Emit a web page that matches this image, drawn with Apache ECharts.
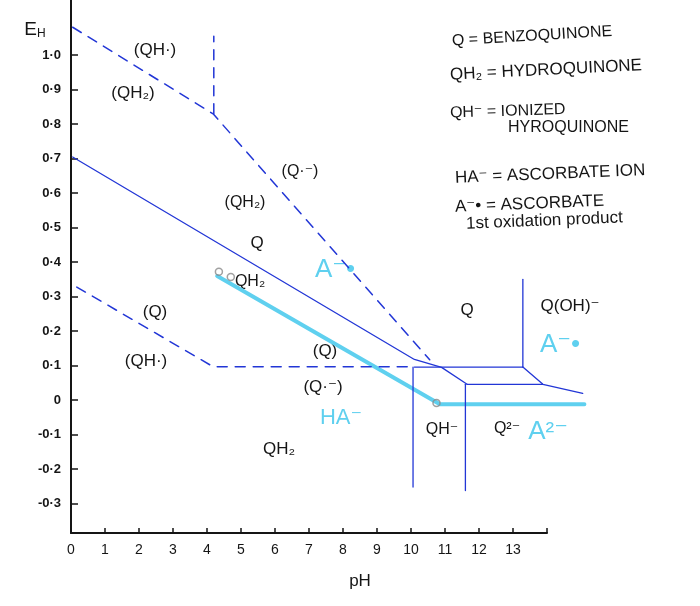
<!DOCTYPE html>
<html>
<head>
<meta charset="utf-8">
<script src="https://cdn.jsdelivr.net/npm/echarts@6/dist/echarts.min.js"></script>
<style>html,body{margin:0;padding:0;background:#fff}#c{width:700px;height:606px}</style>
</head>
<body>
<div id="c"></div>
<script>
// ---- data (pH, Eh in volts) ----
const xTicks = [0,1,2,3,4,5,6,7,8,9,10,11,12,13];
const xTickLabels = ['0','1','2','3','4','5','6','7','8','9','10','11','12','13'];
const ehTicks = [-0.3,-0.2,-0.1,0,0.1,0.2,0.3,0.4,0.5,0.6,0.7,0.8,0.9,1.0];
const ehTickLabels = ['-0·3','-0·2','-0·1','0','0·1','0·2','0·3','0·4','0·5','0·6','0·7','0·8','0·9','1·0'];

// solid boundaries (quinone system)
const qQh2Line   = [[0.05,0.705],[10.1,0.118],[10.9,0.095],[11.65,0.046]];
const qQhmLine   = [[10.1,0.096],[13.29,0.096]];
const qQ2mLine   = [[11.65,0.046],[13.88,0.046]];
const qohLine    = [[13.29,0.096],[13.88,0.046],[15.05,0.020]];
const pKaQOH     = [[13.29,0.096],[13.29,0.35]];
const pKa1Line   = [[10.06,0.096],[10.06,-0.252]];
const pKa2Line   = [[11.6,0.046],[11.6,-0.262]];
// dashed boundaries (semiquinone)
const semiUpper  = [[0.05,1.081],[4.18,0.830],[10.55,0.117]];
const semiVert   = [[4.2,0.830],[4.2,1.055]];
const semiLower  = [[0.17,0.328],[4.18,0.097],[10.1,0.097]];
// ascorbate (cyan)
const ascorbate  = [[4.3,0.360],[10.85,-0.012],[15.1,-0.012]];
const markCircles = [[4.35,0.372],[4.7,0.357],[10.75,-0.008]];

const BLUE = '#2236d6', CYAN = '#5fd0ef', INK = '#151515';
const chart = echarts.init(document.getElementById('c'), null, {renderer:'canvas'});

const Y_MIN = -0.385, Y_MAX = 1.16;
// plotting grid (extends past pH 14 at the same scale: 34 px / pH unit)
const PLOT_MAX = 15.5;

function ln(data, color, width, type, z) {
  return {type:'line', data, xAxisIndex:0, yAxisIndex:0, symbol:'none', clip:false, silent:true, animation:false,
    z: z||3, lineStyle:{color, width, type: type||'solid', cap:'round', join:'round'}};
}
function txt(text, x, y, size, color, align, rot) {
  return {type:'text', x, y, rotation: rot||0, silent:true,
    style:{text, fill: color||INK, font: (size||15)+'px "Liberation Sans", "DejaVu Sans", sans-serif',
      align: align||'center', verticalAlign:'middle'}};
}

const option = {
  backgroundColor:'#fff',
  animation:false,
  grid:[
    {left:71, right:700-71-PLOT_MAX*34, top:0, bottom:73},
    {left:71, right:153, top:0, bottom:73}
  ],
  xAxis:[
    {type:'value', gridIndex:0, min:0, max:PLOT_MAX, show:false},
    {type:'value', gridIndex:1, min:0, max:14,
    name:'pH', nameLocation:'middle', nameGap:40,
    nameTextStyle:{color:INK, fontSize:17, fontFamily:'Liberation Sans', padding:[0,0,0,102]},
    axisLine:{show:true, onZero:false, lineStyle:{color:INK, width:2}},
    axisTick:{show:true, inside:true, length:5, customValues:[0,1,2,3,4,5,6,7,8,9,10,11,12,13,14], lineStyle:{color:INK,width:1.5}},
    axisLabel:{customValues:xTicks, color:INK, fontSize:14, margin:10, fontFamily:'Liberation Sans',
      formatter:(v)=>{const i=xTicks.indexOf(Math.round(v)); return i>=0?xTickLabels[i]:'';}},
    splitLine:{show:false}}
  ],
  yAxis:[
    {type:'value', gridIndex:0, min:Y_MIN, max:Y_MAX, show:false},
    {type:'value', gridIndex:1, min:Y_MIN, max:Y_MAX,
    axisLine:{show:true, onZero:false, lineStyle:{color:INK, width:2}},
    axisTick:{show:true, inside:true, length:7, customValues:ehTicks, lineStyle:{color:INK,width:1.5}},
    axisLabel:{customValues:ehTicks, color:INK, fontSize:13, fontWeight:'bold', margin:10, fontFamily:'Liberation Sans',
      formatter:(v)=>{const i=ehTicks.findIndex(t=>Math.abs(t-v)<1e-6); return i>=0?ehTickLabels[i]:'';}},
    splitLine:{show:false}}
  ],
  series:[
    ln(ascorbate, CYAN, 4, 'solid', 2),
    ln(qQh2Line, BLUE, 1.3),
    ln(qQhmLine, BLUE, 1.3),
    ln(qQ2mLine, BLUE, 1.3),
    ln(qohLine, BLUE, 1.3),
    ln(pKaQOH, BLUE, 1.3),
    ln(pKa1Line, BLUE, 1.3),
    ln(pKa2Line, BLUE, 1.3),
    ln(semiUpper, BLUE, 1.5, [10,8]),
    ln(semiVert, BLUE, 1.5, [10,8]),
    ln(semiLower, BLUE, 1.5, [10,8]),
    {type:'scatter', data:markCircles, xAxisIndex:0, yAxisIndex:0, symbol:'circle', symbolSize:7, silent:true, z:4, clip:false,
      itemStyle:{color:'rgba(0,0,0,0)', borderColor:'#8a8a8a', borderWidth:1.5}}
  ],
  graphic:[
    {type:'text', x:35, y:30, silent:true, style:{text:'{e|E}{h|H}', align:'center', verticalAlign:'middle',
      rich:{e:{fontSize:19, fill:INK, fontFamily:'Liberation Sans'}, h:{fontSize:12, fill:INK, fontFamily:'Liberation Sans', padding:[8,0,0,0]}}}},
    // key
    txt('Q = BENZOQUINONE', 452, 41, 16, INK, 'left', 0.06),
    txt('QH₂ = HYDROQUINONE', 450, 75, 17, INK, 'left', 0.05),
    txt('QH⁻ = IONIZED', 450, 113, 16, INK, 'left', 0.03),
    txt('HYROQUINONE', 508, 128, 16, INK, 'left', 0),
    txt('HA⁻ = ASCORBATE ION', 455, 178, 17, INK, 'left', 0.04),
    txt('A⁻• = ASCORBATE', 455, 207, 17, INK, 'left', 0.04),
    txt('1st oxidation product', 466, 224, 17, INK, 'left', 0.04),
    // regions
    txt('(QH·)', 155, 50, 17), txt('(QH₂)', 133, 93, 17),
    txt('(Q·⁻)', 300, 172, 16), txt('(QH₂)', 245, 203, 16),
    txt('Q', 257, 243, 17), txt('QH₂', 250, 282, 16),
    txt('(Q)', 155, 312, 17), txt('(QH·)', 146, 361, 17),
    txt('(Q)', 325, 351, 17), txt('(Q·⁻)', 323, 387, 17),
    txt('QH₂', 279, 449, 17),
    txt('Q', 467, 310, 17), txt('Q(OH)⁻', 570, 306, 17),
    txt('QH⁻', 442, 430, 16), txt('Q²⁻', 507, 429, 16),
    txt('A⁻•', 335, 270, 26, CYAN), txt('HA⁻', 341, 418, 22, CYAN),
    txt('A⁻•', 560, 345, 26, CYAN), txt('A²⁻', 548, 432, 26, CYAN)
  ]
};
chart.setOption(option);
</script>
</body>
</html>
